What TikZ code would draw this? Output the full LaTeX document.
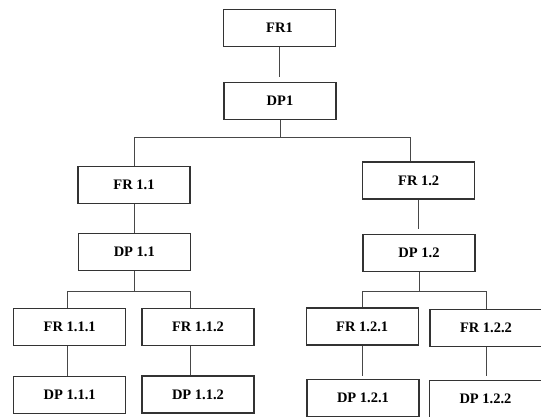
\documentclass[tikz,border=0pt]{standalone}
\usepackage{fontspec}
\setmainfont{Liberation Serif}
\begin{document}
\begin{tikzpicture}[x=1pt,y=-1pt,
  box/.style={draw=black!80, line width=1.1pt, fill=white, minimum width=112pt, minimum height=37pt, inner sep=0pt, font=\fontsize{14.5}{16}\selectfont\bfseries},
  conn/.style={draw=black!72, line width=1pt}]
\clip (0,0) rectangle (541,416);
% level 1
\node[box] (fr1) at (279.5,27.7) {FR1};
\node[box] (dp1) at (280,100.7) {DP1};
% level 2
\node[box] (fr11) at (134,185.2) {FR 1.1};
\node[box] (dp11) at (134.3,252.3) {DP 1.1};
\node[box] (fr12) at (418.7,180.5) {FR 1.2};
\node[box] (dp12) at (419,252.7) {DP 1.2};
% level 3
\node[box] (fr111) at (69.7,327.2) {FR 1.1.1};
\node[box] (fr112) at (198,326.7) {FR 1.1.2};
\node[box] (fr121) at (362.2,326.5) {FR 1.2.1};
\node[box] (fr122) at (486,327.8) {FR 1.2.2};
\node[box] (dp111) at (69.7,395.3) {DP 1.1.1};
\node[box] (dp112) at (198,394.5) {DP 1.1.2};
\node[box] (dp121) at (363,398) {DP 1.2.1};
\node[box] (dp122) at (485.5,398.7) {DP 1.2.2};
% bus coordinates
\coordinate (b1) at (279.3,137.5);
\coordinate (b11) at (134.7,291.7);
\coordinate (b12) at (419,291.7);
\coordinate (c12) at ([xshift=-8pt]fr12.north);
\coordinate (c111) at ([xshift=-2.5pt]fr111.north);
\coordinate (c112) at ([xshift=-7.5pt]fr112.north);
\coordinate (d111) at ([xshift=-2.7pt]fr111.south);
\coordinate (d112) at ([xshift=-8pt]fr112.south);
% connectors
\draw[conn, shorten >=4.3pt] (fr1.south) -- (fr1.south |- dp1.north);
\draw[conn] (dp1.south) -- (dp1.south |- b1);
\draw[conn] (fr11.north) -- (fr11.north |- b1) -- (c12 |- b1) -- (c12);
\draw[conn] (fr11.south) -- (fr11.south |- dp11.north);
\draw[conn, shorten >=5pt] (fr12.south) -- (fr12.south |- dp12.north);
\draw[conn] (dp11.south) -- (dp11.south |- b11);
\draw[conn] (c111) -- (c111 |- b11) -- (c112 |- b11) -- (c112);
\draw[conn] (dp12.south) -- (dp12.south |- b12);
\draw[conn] (fr121.north) -- (fr121.north |- b12) -- (fr122.north |- b12) -- (fr122.north);
\draw[conn] (d111) -- (d111 |- dp111.north);
\draw[conn] (d112) -- (d112 |- dp112.north);
\draw[conn, shorten >=2.6pt] (fr121.south) -- (fr121.south |- dp121.north);
\draw[conn, shorten >=3.3pt] (fr122.south) -- (fr122.south |- dp122.north);
\end{tikzpicture}
\end{document}
